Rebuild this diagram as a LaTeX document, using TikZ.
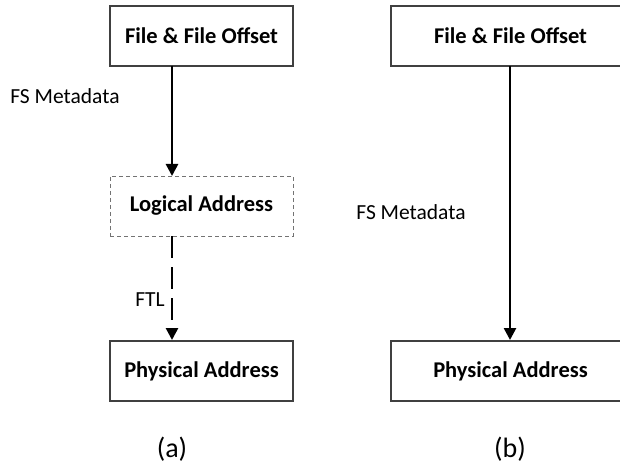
\documentclass[tikz,border=0pt]{standalone}
\usepackage{fontspec}
\setmainfont{Carlito}
\usetikzlibrary{arrows.meta}
\begin{document}
\begin{tikzpicture}[x=1pt,y=-1pt,
  box/.style={draw=black!75,line width=1.1pt,minimum width=183pt,minimum height=60pt,
    inner sep=0pt,font=\fontsize{22.5}{26}\selectfont\bfseries},
  dbox/.style={box,draw=black!55,line width=0.9pt,dash pattern=on 4pt off 3pt},
  flow/.style={line width=2.6pt,-{Triangle[length=12pt,width=12pt]}},
  lbl/.style={font=\fontsize{21.5}{25}\selectfont},
  captxt/.style={font=\fontsize{28}{32}\selectfont}]
\useasboundingbox (0,0) rectangle (620,470);
\clip (0,0) rectangle (620,470);
% (a): two-step translation through the FTL
\node[box]  (fa) at (201.5,36)  {File \& File Offset};
\node[dbox] (la) at (201.5,206) {Logical Address};
\node[box]  (pa) at (201.5,371) {Physical Address};
\coordinate (a1) at (172,66);
\coordinate (a2) at (172,176);
\coordinate (a3) at (172,236);
\coordinate (a4) at (172,340);
\draw[flow] (a1) -- (a2);
\draw[flow,dash pattern=on 22pt off 9pt] (a3) -- (a4);
\node[lbl] (ma) at (65,96) {FS Metadata};
\node[lbl] (ta) at (150,300) {FTL};
\node[captxt] (ca) at (172,449) {(a)};
% (b): direct mapping
\node[box,minimum width=239pt] (fb) at (510.5,36)  {File \& File Offset};
\node[box,minimum width=239pt] (pb) at (510.5,371) {Physical Address};
\coordinate (b1) at (510,66);
\coordinate (b2) at (510,340);
\draw[flow] (b1) -- (b2);
\node[lbl] (mb) at (411,212) {FS Metadata};
\node[captxt] (cb) at (510,449) {(b)};
\end{tikzpicture}
\end{document}
